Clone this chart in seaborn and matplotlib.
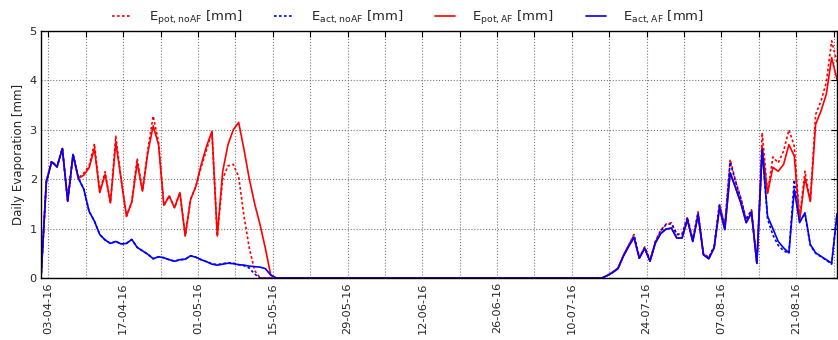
import numpy as np
import pandas as pd
import matplotlib
matplotlib.use("Agg")
import matplotlib.pyplot as plt
import matplotlib.dates as mdates
from matplotlib.ticker import FixedLocator
import seaborn as sns

# ---------------- data ----------------
start_date = "2016-04-01 15:00"
n_days = 150

zeros_mid = [0.0] * 61  # indices 44..104

eact_af = ([0.0, 1.95, 2.35, 2.25, 2.62, 1.56, 2.50, 2.02, 1.80, 1.35,
            1.15, 0.88, 0.77, 0.70, 0.74, 0.69, 0.70, 0.78, 0.62, 0.55,
            0.48, 0.39, 0.43, 0.41, 0.37, 0.34, 0.37, 0.38, 0.45, 0.42,
            0.37, 0.33, 0.28, 0.26, 0.28, 0.30, 0.29, 0.27, 0.26, 0.24,
            0.23, 0.22, 0.19, 0.06] + zeros_mid +
           [0.00, 0.05, 0.11, 0.19, 0.44, 0.64, 0.82, 0.40, 0.60, 0.34,
            0.71, 0.90, 0.99, 1.01, 0.81, 0.81, 1.18, 0.74, 1.28, 0.47,
            0.39, 0.61, 1.42, 0.98, 2.13, 1.83, 1.52, 1.12, 1.32, 0.30,
            2.60, 1.25, 1.00, 0.74, 0.61, 0.51, 1.79, 1.12, 1.32, 0.68,
            0.51, 0.44, 0.37, 0.30, 1.30])

eact_noaf = ([0.0, 1.95, 2.37, 2.25, 2.62, 1.56, 2.50, 2.02, 1.80, 1.35,
              1.15, 0.88, 0.77, 0.70, 0.74, 0.69, 0.70, 0.78, 0.62, 0.55,
              0.48, 0.39, 0.43, 0.41, 0.37, 0.34, 0.37, 0.38, 0.45, 0.42,
              0.37, 0.33, 0.29, 0.27, 0.29, 0.31, 0.30, 0.27, 0.25, 0.20,
              0.08, 0.0, 0.0, 0.0] + zeros_mid +
             [0.00, 0.05, 0.12, 0.20, 0.45, 0.66, 0.86, 0.41, 0.62, 0.35,
              0.73, 0.95, 1.08, 1.10, 0.88, 0.88, 1.22, 0.76, 1.32, 0.48,
              0.41, 0.63, 1.48, 1.05, 2.35, 1.95, 1.60, 1.18, 1.37, 0.30,
              2.62, 1.20, 0.87, 0.66, 0.55, 0.50, 1.99, 1.15, 1.30, 0.66,
              0.50, 0.43, 0.36, 0.28, 1.30])

epot_af = ([0.0, 1.95, 2.35, 2.25, 2.62, 1.56, 2.50, 2.02, 2.08, 2.23,
            2.62, 1.73, 2.10, 1.52, 2.75, 2.00, 1.25, 1.54, 2.33, 1.76,
            2.54, 3.08, 2.70, 1.47, 1.66, 1.42, 1.73, 0.85, 1.59, 1.86,
            2.30, 2.67, 2.97, 0.85, 2.15, 2.70, 3.00, 3.15, 2.60, 2.00,
            1.50, 1.08, 0.60, 0.06] + zeros_mid +
           [0.00, 0.05, 0.11, 0.19, 0.44, 0.64, 0.82, 0.40, 0.60, 0.34,
            0.71, 0.90, 0.99, 1.01, 0.81, 0.81, 1.18, 0.74, 1.28, 0.47,
            0.39, 0.61, 1.42, 0.98, 2.13, 1.83, 1.52, 1.12, 1.32, 0.30,
            2.65, 1.72, 2.24, 2.16, 2.30, 2.70, 2.47, 1.15, 2.03, 1.55,
            3.11, 3.38, 3.72, 4.46, 4.02])

epot_noaf = ([0.0, 1.95, 2.37, 2.25, 2.62, 1.56, 2.50, 2.02, 2.12, 2.27,
              2.72, 1.75, 2.15, 1.52, 2.87, 2.00, 1.25, 1.54, 2.42, 1.76,
              2.60, 3.28, 2.75, 1.47, 1.66, 1.42, 1.73, 0.85, 1.59, 1.86,
              2.25, 2.60, 2.95, 0.85, 2.00, 2.27, 2.30, 2.05, 1.25, 0.60,
              0.15, 0.0, 0.0, 0.0] + zeros_mid +
             [0.00, 0.05, 0.12, 0.20, 0.46, 0.67, 0.88, 0.42, 0.63, 0.36,
              0.74, 0.97, 1.09, 1.12, 0.89, 0.89, 1.24, 0.77, 1.34, 0.49,
              0.42, 0.64, 1.50, 1.06, 2.40, 1.97, 1.62, 1.19, 1.38, 0.30,
              2.94, 1.72, 2.45, 2.33, 2.57, 3.00, 2.67, 1.20, 2.16, 1.55,
              3.31, 3.58, 3.96, 4.80, 4.36])

series_labels = [r"$\mathrm{E_{pot,noAF}}$ [mm]", r"$\mathrm{E_{act,noAF}}$ [mm]",
                 r"$\mathrm{E_{pot,AF}}$ [mm]", r"$\mathrm{E_{act,AF}}$ [mm]"]
y_label = "Daily Evaporation [mm]"
tick_start = "2016-04-03"
tick_end = "2016-08-28"

# ---------------- figure ----------------
sns.set_theme(style="white")
plt.rcParams["font.family"] = ["DejaVu Sans"]
plt.rcParams["mathtext.fontset"] = "dejavusans"

dates = pd.date_range(start_date, periods=n_days, freq="D")
df = pd.DataFrame({"date": dates, "epot_noaf": epot_noaf, "eact_noaf": eact_noaf,
                   "epot_af": epot_af, "eact_af": eact_af})

fig = plt.figure(figsize=(8.38, 3.40), dpi=100)
ax = fig.add_axes([41 / 838, 62 / 340, 796 / 838, 247 / 340])

dot = (0, (1.6, 1.4))
specs = [("epot_noaf", "#ff0000", dot), ("eact_noaf", "#0000ff", dot),
         ("epot_af", "#ff0000", "-"), ("eact_af", "#0000ff", "-")]
for (col, color, ls), lab in zip(specs, series_labels):
    sns.lineplot(data=df, x="date", y=col, color=color, linestyle=ls,
                 linewidth=1.2, ax=ax, label=lab)

handles, labels = ax.get_legend_handles_labels()
ax.get_legend().remove()

ax.set_xlim(dates[0], dates[-1])
ax.set_ylim(0, 5)
ax.set_yticks([0, 1, 2, 3, 4, 5])

weekly = pd.date_range(tick_start, tick_end, freq="7D")
ax.xaxis.set_major_locator(FixedLocator(mdates.date2num(weekly[::2])))
ax.xaxis.set_minor_locator(FixedLocator(mdates.date2num(weekly[1::2])))
ax.xaxis.set_major_formatter(mdates.DateFormatter("%d-%m-%y"))
plt.setp(ax.get_xticklabels(), rotation=90)

ax.grid(True, which="both", axis="x", color="#777777", linestyle=":", linewidth=0.8)
ax.grid(True, which="major", axis="y", color="#777777", linestyle=":", linewidth=0.8)
ax.tick_params(axis="both", which="both", direction="in", top=True, right=True,
               labelsize=8.2, length=4, width=0.8, color="black", pad=3)
for s in ax.spines.values():
    s.set_color("black")
    s.set_linewidth(1.0)

ax.set_xlabel("")
ax.set_ylabel(y_label, fontsize=8.5, labelpad=3)

fig.legend(handles, labels, loc="upper center", ncol=4, frameon=False,
           bbox_to_anchor=(0.487, 1.01), fontsize=9.5, handlelength=1.5,
           columnspacing=2.4, handletextpad=1.3)

fig.savefig("out.png", dpi=100)
